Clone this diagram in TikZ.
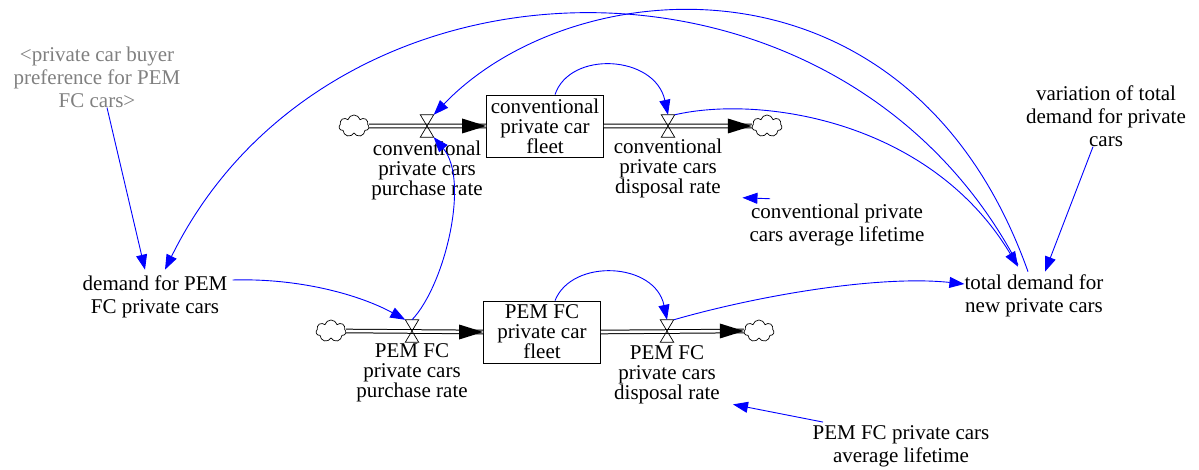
\documentclass[tikz,border=0pt]{standalone}
\usepackage{fontspec}
\setmainfont{Liberation Serif}
\usetikzlibrary{arrows.meta,shapes.symbols}
\definecolor{lnk}{RGB}{0,0,255}
\definecolor{shadowtxt}{RGB}{128,128,128}
\tikzset{
 txt/.style={align=center, inner sep=0pt, font=\fontsize{21}{23}\selectfont},
 flowtxt/.style={align=center, inner sep=0pt, font=\fontsize{21}{20}\selectfont},
 stockbox/.style={draw, line width=0.8pt, minimum width=117pt, minimum height=62pt, inner sep=0pt, align=center, font=\fontsize{21}{20}\selectfont},
 valvebox/.style={minimum width=13pt, minimum height=22pt, inner sep=0pt},
 sinkcloud/.style={cloud, cloud puffs=7, draw, line width=0.7pt, minimum width=30pt, minimum height=22pt, inner sep=0pt},
 pipe/.style={double, double distance=2.6pt, line width=1pt},
 link/.style={lnk, line width=0.9pt, -{Triangle[length=15pt,width=11pt]}},
}
\begin{document}
\begin{tikzpicture}[x=1pt,y=-1pt]
\useasboundingbox (0,0) rectangle (1199,470);
% stocks
\node[stockbox] (cfl) at (545,126) {conventional\\private car\\fleet};
\node[stockbox] (pfl) at (542,332) {PEM FC\\private car\\fleet};
% clouds
\node[sinkcloud] (cs1) at (354,126) {};
\node[sinkcloud] (cs2) at (767,126) {};
\node[sinkcloud] (ps1) at (331,331) {};
\node[sinkcloud] (ps2) at (759,331) {};
% pipes
\draw[pipe] (cs1.east) -- (cfl.west);
\fill (cfl.west) -- ++(-24,-7.5) -- ++(0,15) -- cycle;
\draw[pipe] (cfl.east) -- (cs2.west);
\fill (cs2.west) -- ++(-24,-7.5) -- ++(0,15) -- cycle;
\draw[pipe] (ps1.east) -- (pfl.west);
\fill (pfl.west) -- ++(-24,-7.5) -- ++(0,15) -- cycle;
\draw[pipe] (pfl.east) -- (ps2.west);
\fill (ps2.west) -- ++(-24,-7.5) -- ++(0,15) -- cycle;
% valves
\node[valvebox] (cpv) at (427,126) {};
\node[valvebox] (cdv) at (668,126) {};
\node[valvebox] (ppv) at (412,331) {};
\node[valvebox] (pdv) at (667,331) {};
\foreach \v in {cpv,cdv,ppv,pdv}{
  \draw[line width=0.7pt] (\v.north west) -- (\v.north east) -- (\v.south west) -- (\v.south east) -- cycle;
}
% flow labels
\node[flowtxt] (cprl) at (427,170) {conventional\\private cars\\purchase rate};
\node[flowtxt] (cdrl) at (668,168) {conventional\\private cars\\disposal rate};
\node[flowtxt] (pprl) at (412,373) {PEM FC\\private cars\\purchase rate};
\node[flowtxt] (pdrl) at (667,375) {PEM FC\\private cars\\disposal rate};
% auxiliaries
\node[txt, text=shadowtxt] (pref) at (97,77) {<private car buyer\\preference for PEM\\FC cars>};
\node[txt] (dpem) at (155,297) {demand for PEM\\FC private cars};
\node[txt] (td) at (1034,296) {total demand for\\new private cars};
\node[txt] (var) at (1106,116) {variation of total\\demand for private\\cars};
\node[txt] (cl) at (837,225) {conventional private\\cars average lifetime};
\node[txt] (pl) at (901,446) {PEM FC private cars\\average lifetime};
% links
\draw[link] ([xshift=10pt]pref.south) -- ([xshift=-10pt,yshift=6pt]dpem.north);
\draw[link] ([xshift=-16pt,yshift=10pt]td.north) .. controls (840,-75) and (330,-65) .. ([xshift=10pt,yshift=6pt]dpem.north);
\draw[link] ([xshift=-6pt,yshift=3pt]td.north) .. controls (910,-60) and (572,-30) .. (cpv.north east);
\draw[link] (cdv.north east) .. controls (760,95) and (930,120) .. ([xshift=-16pt,yshift=8pt]td.north);
\draw[link] (pdv.north east) .. controls (760,295) and (880,275) .. ([yshift=12pt]td.west);
\draw[link] ([xshift=-13pt]var.south) -- ([xshift=11pt,yshift=3pt]td.north);
\draw[link] ([xshift=10pt]cfl.north) .. controls (570,50) and (655,55) .. (cdv.north);
\draw[link] ([xshift=13pt]pfl.north) .. controls (572,258) and (655,262) .. (pdv.north);
\draw[link] ([xshift=-67pt,yshift=5pt]cl.north) -- ([xshift=20pt]cdrl.south east);
\draw[link] ([xshift=-78pt,yshift=3pt]pl.north) -- ([xshift=13pt]pdrl.south east);
\draw[link] ([xshift=5pt,yshift=17pt]dpem.east) .. controls (300,278) and (360,295) .. (ppv.north west);
\draw[link] (ppv.north) .. controls (445,285) and (470,180) .. (cpv.south east);
\end{tikzpicture}
\end{document}
